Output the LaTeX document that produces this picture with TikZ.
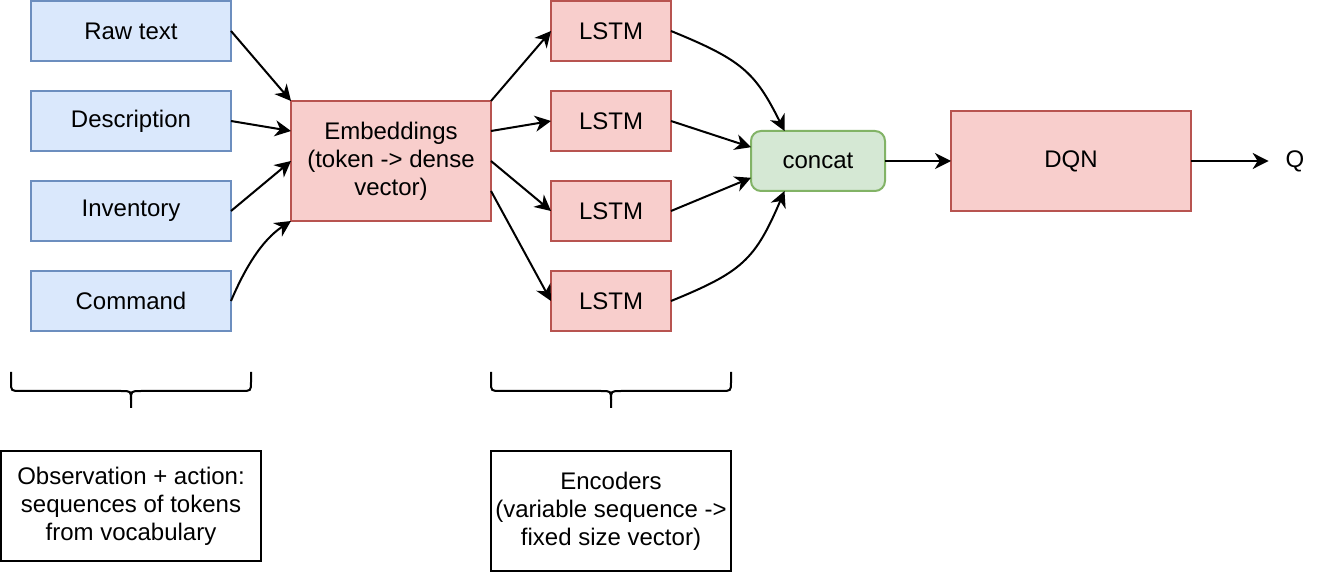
\documentclass[tikz,border=0pt]{standalone}
\usepackage{fontspec}
\setmainfont{Liberation Sans}
\usetikzlibrary{arrows.meta,calc}
\tikzset{every picture/.style={line width=1pt}}
\tikzset{
  bluebox/.style={draw={rgb, 255:red, 108; green, 142; blue, 191}, fill={rgb, 255:red, 218; green, 232; blue, 252},
    minimum width=100pt, minimum height=30pt, inner sep=0pt, outer sep=0pt, align=center, font=\fontsize{12}{14}\selectfont},
  redbox/.style={draw={rgb, 255:red, 184; green, 84; blue, 80}, fill={rgb, 255:red, 248; green, 206; blue, 204},
    minimum height=30pt, inner sep=0pt, outer sep=0pt, align=center, font=\fontsize{12}{14}\selectfont},
  greenbox/.style={draw={rgb, 255:red, 130; green, 179; blue, 102}, fill={rgb, 255:red, 213; green, 232; blue, 212},
    rounded corners=5pt, minimum width=67pt, minimum height=30pt, inner sep=0pt, outer sep=0pt, font=\fontsize{12}{14}\selectfont},
  notebox/.style={draw=black, fill=white, inner sep=0pt, outer sep=0pt, align=center, font=\fontsize{12}{14}\selectfont},
  arr/.style={-{Stealth[length=8pt, width=8pt, inset=2.5pt]}, draw=black}
}

\begin{document}
\begin{tikzpicture}[x=0.5pt,y=0.5pt,yscale=-1,xscale=1]
\useasboundingbox (0,0) rectangle (1324,572);
% inputs
\node [bluebox] (raw) at (131,31) {Raw text};
\node [bluebox] (desc) at (131,121) {Description};
\node [bluebox] (inv) at (131,211) {Inventory};
\node [bluebox] (cmd) at (131,301) {Command};
% embeddings and encoders
\node [redbox, minimum width=100pt, minimum height=60pt] (emb) at (391,161) {Embeddings\\(token -> dense\\vector)};
\node [redbox, minimum width=60pt] (l1) at (611,31) {LSTM};
\node [redbox, minimum width=60pt] (l2) at (611,121) {LSTM};
\node [redbox, minimum width=60pt] (l3) at (611,211) {LSTM};
\node [redbox, minimum width=60pt] (l4) at (611,301) {LSTM};
\node [greenbox] (cat) at (818,161) {concat};
\node [redbox, minimum width=120pt, minimum height=50pt] (dqn) at (1071,161) {DQN};
\node [inner sep=8pt, font=\fontsize{12}{14}\selectfont] (q) at (1295,161) {Q};
% notes
\node [notebox, minimum width=130pt, minimum height=55pt] (obs) at (131,506) {Observation + action:\\sequences of tokens\\from vocabulary};
\node [notebox, minimum width=120pt, minimum height=60pt] (enc) at (611,511) {Encoders\\(variable sequence ->\\fixed size vector)};

\draw [arr] (raw.east) -- (emb.north west);
\draw [arr] (desc.east) -- ($(emb.north west)!0.25!(emb.south west)$);
\draw [arr] (inv.east) -- (emb.west);
\draw [arr] (cmd.east) .. controls (245,268) and (262,240) .. (emb.south west);

\draw [arr] (emb.north east) -- (l1.west);
\draw [arr] ($(emb.north east)!0.25!(emb.south east)$) -- (l2.west);
\draw [arr] (emb.east) -- (l3.west);
\draw [arr] ($(emb.north east)!0.75!(emb.south east)$) -- (l4.west);

\draw [arr] (l1.east) .. controls (742,60) and (755,72) .. ($(cat.north west)!0.25!(cat.north east)$);
\draw [arr] (l2.east) -- ($(cat.north west)!0.27!(cat.south west)$);
\draw [arr] (l3.east) -- ($(cat.north west)!0.78!(cat.south west)$);
\draw [arr] (l4.east) .. controls (742,272) and (755,260) .. ($(cat.south west)!0.25!(cat.south east)$);
\draw [arr] (cat.east) -- (dqn.west);
\draw [arr] (dqn.east) -- (q.west);

% braces
\foreach \cx in {131,611} {
  \draw ($(\cx,372)+(-120,0)$) -- ($(\cx,382)+(-120,0)$) .. controls ($(\cx,391)+(-120,0)$) .. ($(\cx,391)+(-110,0)$)
        -- ($(\cx,391)+(-10,0)$) .. controls (\cx,391) .. (\cx,400) -- (\cx,408);
  \draw ($(\cx,372)+(120,0)$) -- ($(\cx,382)+(120,0)$) .. controls ($(\cx,391)+(120,0)$) .. ($(\cx,391)+(110,0)$)
        -- ($(\cx,391)+(10,0)$) .. controls (\cx,391) .. (\cx,400);
}
\end{tikzpicture}
\end{document}
